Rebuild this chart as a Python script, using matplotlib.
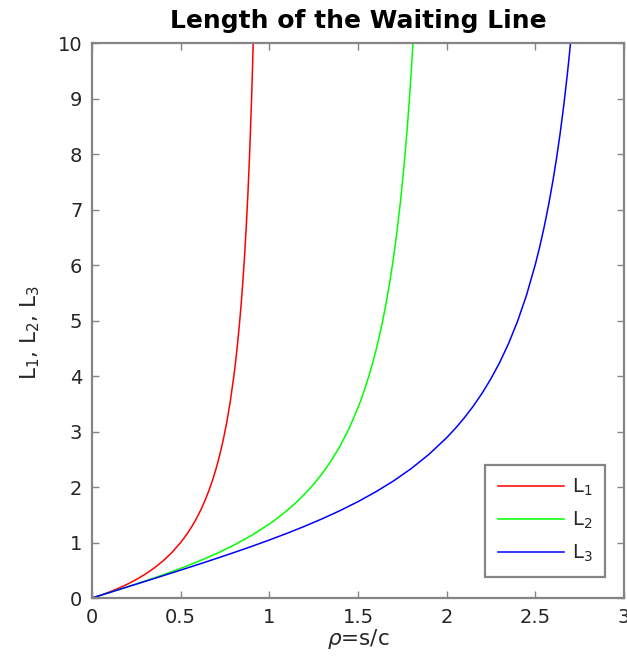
import matplotlib
matplotlib.use("Agg")
import matplotlib.pyplot as plt

# Mean number in system versus load for 1, 2 and 3 servers
rho_1 = [0.0, 0.05, 0.1, 0.15, 0.2, 0.25, 0.3, 0.35, 0.4, 0.45, 0.5, 0.52, 0.54,
         0.56, 0.58, 0.6, 0.62, 0.64, 0.66, 0.68, 0.7, 0.72, 0.74, 0.76, 0.78,
         0.8, 0.81, 0.82, 0.83, 0.84, 0.85, 0.86, 0.87, 0.88, 0.89, 0.9, 0.905,
         0.9091]
L_1 = [0.0, 0.0526, 0.1111, 0.1765, 0.25, 0.3333, 0.4286, 0.5385, 0.6667, 0.8182,
       1.0, 1.0833, 1.1739, 1.2727, 1.381, 1.5, 1.6316, 1.7778, 1.9412, 2.125,
       2.3333, 2.5714, 2.8462, 3.1667, 3.5455, 4.0, 4.2632, 4.5556, 4.8824, 5.25,
       5.6667, 6.1429, 6.6923, 7.3333, 8.0909, 9.0, 9.5263, 10.0]

rho_2 = [0.0, 0.1, 0.2, 0.3, 0.4, 0.5, 0.6, 0.7, 0.8, 0.9, 1.0, 1.05, 1.1, 1.15,
         1.2, 1.25, 1.3, 1.35, 1.4, 1.45, 1.5, 1.52, 1.54, 1.56, 1.58, 1.6, 1.62,
         1.64, 1.66, 1.68, 1.7, 1.72, 1.74, 1.76, 1.77, 1.78, 1.79, 1.8, 1.81]
L_2 = [0.0, 0.1003, 0.202, 0.3069, 0.4167, 0.5333, 0.6593, 0.7977, 0.9524, 1.1285,
       1.3333, 1.4495, 1.5771, 1.718, 1.875, 2.0513, 2.2511, 2.4799, 2.7451,
       3.0567, 3.4286, 3.5985, 3.7829, 3.9837, 4.2032, 4.4444, 4.7107, 5.0061,
       5.3359, 5.7065, 6.1261, 6.6052, 7.1576, 7.8014, 8.1652, 8.5618, 8.9961,
       9.4737, 10.0014]

rho_3 = [0.0, 0.1, 0.2, 0.3, 0.4, 0.5, 0.6, 0.7, 0.8, 0.9, 1.0, 1.1, 1.2, 1.3, 1.4,
         1.5, 1.6, 1.7, 1.8, 1.9, 2.0, 2.05, 2.1, 2.15, 2.2, 2.25, 2.3, 2.35, 2.4,
         2.45, 2.5, 2.525, 2.55, 2.575, 2.6, 2.62, 2.64, 2.66, 2.68, 2.69, 2.7]
L_3 = [0.0, 0.1, 0.2001, 0.3004, 0.4013, 0.503, 0.6062, 0.7112, 0.8189, 0.93,
       1.0455, 1.1664, 1.2941, 1.4303, 1.5771, 1.7368, 1.9129, 2.1095, 2.3321,
       2.5884, 2.8889, 3.0602, 3.2488, 3.4578, 3.6909, 3.9533, 4.251, 4.5926,
       4.9888, 5.4547, 6.0112, 6.3325, 6.6888, 7.0863, 7.5327, 7.9317, 8.3745,
       8.8689, 9.4245, 9.7289, 10.0537]

series = [(rho_1, L_1, "#ff0000", r"L$_1$"),
          (rho_2, L_2, "#00ff00", r"L$_2$"),
          (rho_3, L_3, "#0000ff", r"L$_3$")]

x_ticks = [0, 0.5, 1, 1.5, 2, 2.5, 3]
x_tick_labels = ["0", "0.5", "1", "1.5", "2", "2.5", "3"]
y_ticks = list(range(0, 11))

plt.rcParams["font.family"] = "DejaVu Sans"

fig = plt.figure(figsize=(6.27, 6.63), dpi=100)
ax = fig.add_axes([0.1467, 0.098, 0.8485, 0.837])

for xs, ys, color, label in series:
    ax.plot(xs, ys, color=color, lw=1.1, label=label)

ax.set_xlim(0, 3)
ax.set_ylim(0, 10)
ax.set_xticks(x_ticks)
ax.set_xticklabels(x_tick_labels)
ax.set_yticks(y_ticks)

spine_gray = "#858585"
text_gray = "#262626"
for s in ax.spines.values():
    s.set_color(spine_gray)
    s.set_linewidth(1.6)
ax.tick_params(direction="in", length=5, width=1.0, color=spine_gray,
               labelcolor=text_gray, labelsize=14, top=True, right=True, pad=7)

ax.set_title("Length of the Waiting Line", fontsize=18, fontweight="bold",
             color="black", pad=11)
ax.set_xlabel(r"$\rho$=s/c", fontsize=15.5, color=text_gray, labelpad=0)
ax.set_ylabel(r"L$_1$, L$_2$, L$_3$", fontsize=15.5, color=text_gray)
ax.yaxis.set_label_coords(-0.094, 0.478)

leg = ax.legend(loc="lower right", fontsize=14, handlelength=3.4,
                fancybox=False, framealpha=1, borderpad=0.65, labelspacing=0.6,
                handletextpad=0.4, borderaxespad=0,
                bbox_to_anchor=(0.9643, 0.0378))
leg.get_frame().set_edgecolor(spine_gray)
leg.get_frame().set_linewidth(1.6)
for t in leg.get_texts():
    t.set_color(text_gray)

fig.savefig("out.png", dpi=100)
